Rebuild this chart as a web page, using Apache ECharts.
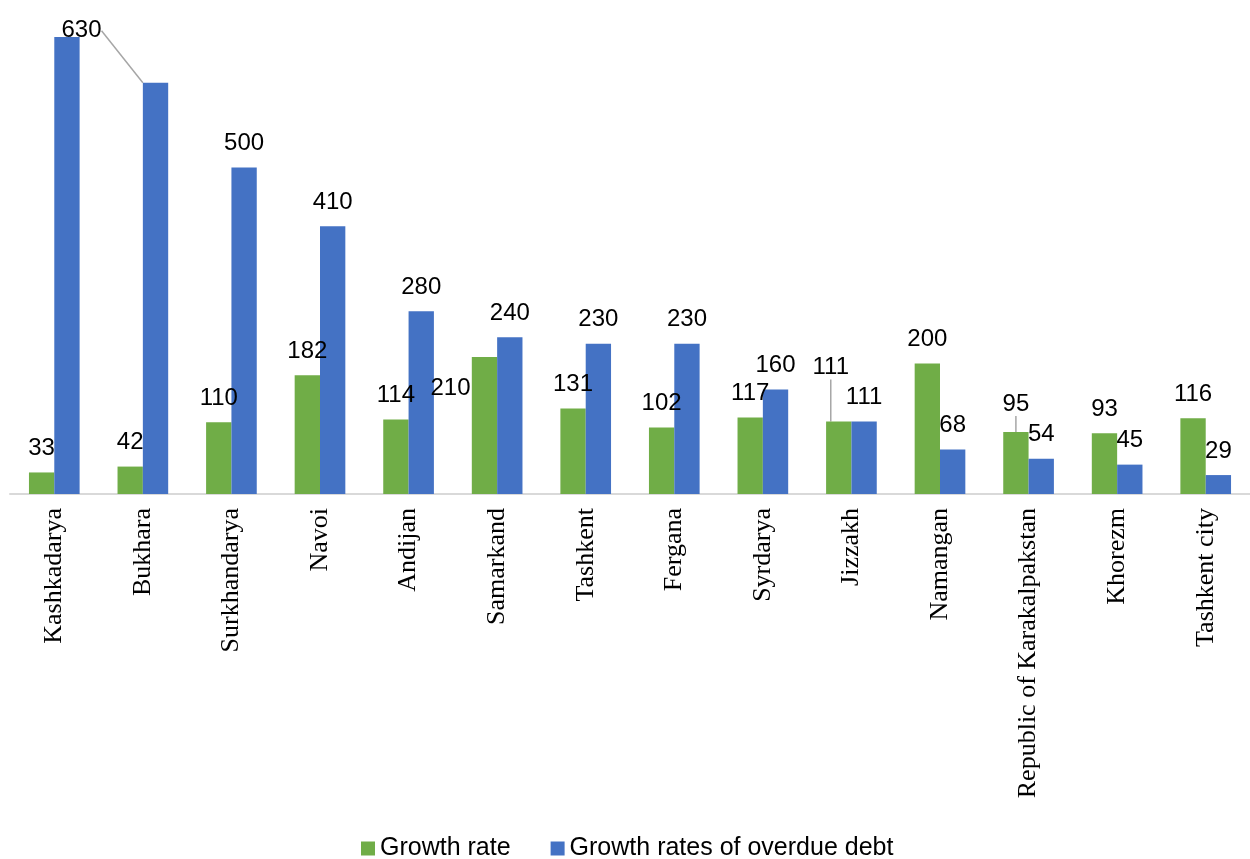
<!DOCTYPE html>
<html>
<head>
<meta charset="utf-8">
<script src="https://cdn.jsdelivr.net/npm/echarts@6/dist/echarts.min.js"></script>
<style>
  html, body { margin: 0; padding: 0; background: #fff; }
  #chart { width: 1250px; height: 859px; }
</style>
</head>
<body>
<div id="chart"></div>
<script>
var regions = ['Kashkadarya', 'Bukhara', 'Surkhandarya', 'Navoi', 'Andijan', 'Samarkand', 'Tashkent',
    'Fergana', 'Syrdarya', 'Jizzakh', 'Namangan', 'Republic of Karakalpakstan', 'Khorezm', 'Tashkent city'];
var growthRate = [33, 42, 110, 182, 114, 210, 131, 102, 117, 111, 200, 95, 93, 116];
var overdueRate = [700, 630, 500, 410, 280, 240, 230, 230, 160, 111, 68, 54, 45, 29];
var legendNames = ['Growth rate', 'Growth rates of overdue debt'];

// labels that Excel pushed away from their bars
var greenMoved = { 5: [-34, 55], 9: [-8, -30], 11: [0, -4] };
var blueMoved = { 1: [-74, -28] };
var withLine = { 9: true, 11: true };

var greenData = growthRate.map(function (v, i) {
    var item = { value: v };
    if (withLine[i]) item.labelLine = { show: true };
    return item;
});
var blueData = overdueRate.map(function (v, i) {
    var item = { value: v };
    if (i === 0) item.label = { show: false };
    if (blueMoved[i]) item.labelLine = { show: true };
    return item;
});

var labelStyle = {
    show: true,
    position: 'top',
    distance: 12,
    color: '#000',
    fontFamily: 'Arial, "Liberation Sans", sans-serif',
    fontSize: 24
};
var lineStyle = { color: '#a6a6a6', width: 1.5 };

var chart = echarts.init(document.getElementById('chart'));
var option = {
    animation: false,
    color: ['#70AD47', '#4472C4'],
    legend: {
        data: legendNames,
        bottom: -7,
        left: 356,
        icon: 'rect',
        itemWidth: 14,
        itemHeight: 14,
        itemGap: 40,
        textStyle: {
            color: '#000',
            fontFamily: 'Arial, "Liberation Sans", sans-serif',
            fontSize: 25
        }
    },
    grid: {
        left: 10,
        top: 37,
        width: 1249,
        bottom: 365,
        containLabel: false
    },
    xAxis: {
        type: 'category',
        data: regions,
        axisLine: { lineStyle: { color: '#d9d9d9', width: 2 } },
        axisTick: { show: false },
        axisLabel: {
            interval: 0,
            rotate: 90,
            margin: 14,
            color: '#000',
            fontFamily: '"Liberation Serif", "Times New Roman", serif',
            fontSize: 26
        }
    },
    yAxis: {
        type: 'value',
        min: 0,
        max: 700,
        show: false,
        splitLine: { show: false }
    },
    series: [
        {
            name: legendNames[0],
            type: 'bar',
            data: greenData,
            barWidth: '28.6%',
            barGap: '0%',
            label: labelStyle,
            labelLine: { show: false, lineStyle: lineStyle },
            labelLayout: function (p) {
                var d = greenMoved[p.dataIndex];
                return d ? { dx: d[0], dy: d[1] } : {};
            }
        },
        {
            name: legendNames[1],
            type: 'bar',
            data: blueData,
            barWidth: '28.6%',
            barGap: '0%',
            label: labelStyle,
            labelLine: { show: false, lineStyle: lineStyle },
            labelLayout: function (p) {
                var d = blueMoved[p.dataIndex];
                return d ? { dx: d[0], dy: d[1] } : {};
            }
        }
    ]
};
chart.setOption(option);
</script>
</body>
</html>
